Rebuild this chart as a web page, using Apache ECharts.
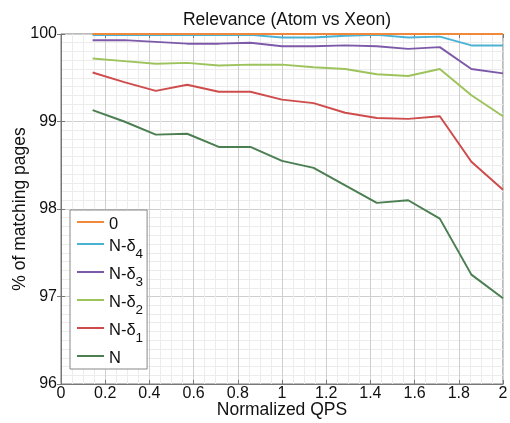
<!DOCTYPE html>
<html>
<head>
<meta charset="utf-8">
<script src="https://cdn.jsdelivr.net/npm/echarts@6/dist/echarts.min.js"></script>
<style>
  html, body { margin: 0; padding: 0; background: #fff; }
  #chart { width: 510px; height: 423px; }
</style>
</head>
<body>
<div id="chart"></div>
<script>
// normalized QPS (x) and relevance per series
var qps = [0.143, 0.286, 0.429, 0.571, 0.714, 0.857, 1.0, 1.143, 1.286, 1.429, 1.571, 1.714, 1.857, 2.0];
var seriesNames = ['0', 'N-δ4', 'N-δ3', 'N-δ2', 'N-δ1', 'N'];
var zero   = [100, 100, 100, 100, 100, 100, 100, 100, 100, 100, 100, 100, 100, 100];
var nd4    = [99.99, 99.99, 99.99, 99.99, 99.99, 99.99, 99.96, 99.96, 99.98, 99.99, 99.96, 99.97, 99.87, 99.87];
var nd3    = [99.93, 99.93, 99.91, 99.89, 99.89, 99.90, 99.86, 99.86, 99.87, 99.86, 99.83, 99.85, 99.60, 99.55];
var nd2    = [99.72, 99.69, 99.66, 99.67, 99.64, 99.65, 99.65, 99.62, 99.60, 99.54, 99.52, 99.60, 99.30, 99.06];
var nd1    = [99.56, 99.45, 99.35, 99.42, 99.34, 99.34, 99.25, 99.21, 99.10, 99.04, 99.03, 99.06, 98.54, 98.22];
var nFull  = [99.13, 99.00, 98.85, 98.86, 98.71, 98.71, 98.55, 98.47, 98.27, 98.07, 98.10, 97.89, 97.25, 96.98];
var xTicks = [0, 0.2, 0.4, 0.6, 0.8, 1, 1.2, 1.4, 1.6, 1.8, 2];
var yTicks = [96, 97, 98, 99, 100];

var colors = ['#f0893a', '#4bb2d3', '#7d5aa9', '#9dc35c', '#cf4c4c', '#4b7f52'];
var allData = [zero, nd4, nd3, nd2, nd1, nFull];

function pairs(ys) {
  return ys.map(function (v, i) { return [qps[i], v]; });
}

var font = 'Liberation Sans, Arial, sans-serif';
var chart = echarts.init(document.getElementById('chart'));

var series = seriesNames.map(function (name, i) {
  return {
    name: name,
    type: 'line',
    data: pairs(allData[i]),
    showSymbol: false,
    symbol: 'none',
    z: 10 - i,
    lineStyle: { color: colors[i], width: 2 },
    itemStyle: { color: colors[i] }
  };
});

chart.setOption({
  animation: false,
  title: {
    text: 'Relevance (Atom vs Xeon)',
    left: 282,
    textAlign: 'center',
    top: 6,
    textStyle: { fontFamily: font, fontSize: 17.5, fontWeight: 'normal', color: '#111' }
  },
  grid: {
    left: 61, right: 7, top: 34, bottom: 39,
    containLabel: false,
    outerBoundsMode: 'none',
    show: true, borderColor: '#777', borderWidth: 1
  },
  legend: {
    orient: 'vertical',
    left: 70,
    top: 210,
    padding: [3, 4, 2, 7],
    backgroundColor: '#fff',
    borderColor: '#888',
    borderWidth: 1,
    icon: 'rect',
    itemWidth: 27,
    itemHeight: 2,
    itemGap: 2,
    data: seriesNames,
    formatter: function (name) {
      var m = name.match(/^N-δ(\d)$/);
      if (m) return '{a|N-δ}{s|' + m[1] + '}';
      return '{a|' + name + '}';
    },
    textStyle: {
      fontFamily: font,
      color: '#111',
      rich: {
        a: { fontFamily: font, fontSize: 16.5, color: '#111', lineHeight: 18, padding: [3, 0, 0, 0], verticalAlign: 'top' },
        s: { fontFamily: font, fontSize: 13.5, color: '#111', lineHeight: 16, padding: [12, 0, 0, 0], verticalAlign: 'top' }
      }
    }
  },
  xAxis: [{
    type: 'value',
    min: 0, max: 2, interval: 0.2,
    name: 'Normalized QPS',
    nameLocation: 'middle',
    nameGap: 17,
    nameMoveOverlap: false,
    nameTextStyle: { fontFamily: font, fontSize: 17.5, color: '#111' },
    axisLine: { lineStyle: { color: '#777' } },
    axisTick: { inside: true, length: 4, lineStyle: { color: '#777' } },
    axisLabel: {
      fontFamily: font, fontSize: 16, color: '#111', margin: 2,
      formatter: function (v) { return xTicks.indexOf(+v.toFixed(1)) >= 0 ? String(+v.toFixed(1)) : ''; }
    },
    splitLine: { show: true, lineStyle: { color: '#cfcfcf', width: 1 } },
    minorTick: { show: false, splitNumber: 4 },
    minorSplitLine: { show: true, lineStyle: { color: '#ececec', width: 1 } }
  }, {
    type: 'value',
    position: 'top',
    min: 0, max: 2, interval: 0.2,
    axisLine: { show: false },
    axisTick: { inside: true, length: 4, lineStyle: { color: '#777' } },
    axisLabel: { show: false },
    splitLine: { show: false }
  }],
  yAxis: [{
    type: 'value',
    min: 96, max: 100, interval: 1,
    name: '% of matching pages',
    nameLocation: 'middle',
    nameGap: 32,
    nameMoveOverlap: false,
    nameTextStyle: { fontFamily: font, fontSize: 17.5, color: '#111' },
    axisLine: { show: true, lineStyle: { color: '#777' } },
    axisTick: { show: true, inside: true, length: 4, lineStyle: { color: '#777' } },
    axisLabel: {
      fontFamily: font, fontSize: 16, color: '#111', margin: 4,
      formatter: function (v) { return yTicks.indexOf(v) >= 0 ? String(v) : ''; }
    },
    splitLine: { show: true, lineStyle: { color: '#cfcfcf', width: 1 } },
    minorTick: { show: false, splitNumber: 10 },
    minorSplitLine: { show: true, lineStyle: { color: '#ececec', width: 1 } }
  }, {
    type: 'value',
    position: 'right',
    min: 96, max: 100, interval: 1,
    axisLine: { show: false },
    axisTick: { show: true, inside: true, length: 4, lineStyle: { color: '#777' } },
    axisLabel: { show: false },
    splitLine: { show: false }
  }],
  series: series
});
</script>
</body>
</html>
